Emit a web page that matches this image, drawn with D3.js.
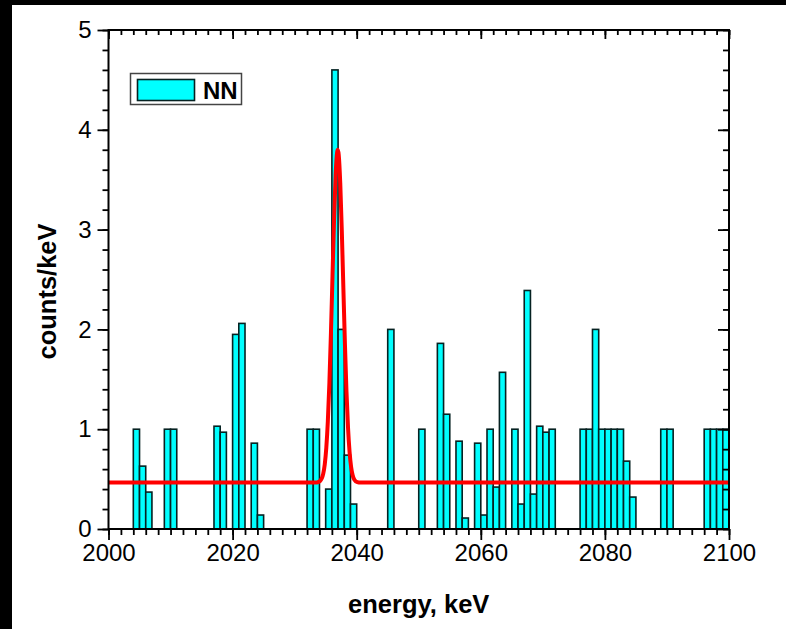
<!DOCTYPE html>
<html>
<head>
<meta charset="utf-8">
<script src="https://cdn.jsdelivr.net/npm/d3@7"></script>
<style>
  html, body { margin: 0; padding: 0; background: #000; }
  svg { display: block; }
  text { font-family: "Liberation Sans", Arial, Helvetica, sans-serif; fill: #000; }
</style>
</head>
<body>
<svg id="chart" width="786" height="629"></svg>
<script>
// Histogram bins (lower edge of each 1 keV bin) and counts/keV
const binStart = [2004, 2005, 2006, 2009, 2010, 2017, 2018, 2020, 2021, 2023, 2024,
                  2032, 2033, 2035, 2036, 2037, 2038, 2039, 2045, 2050, 2053, 2054,
                  2056, 2057, 2059, 2060, 2061, 2062, 2063, 2065, 2066, 2067, 2068,
                  2069, 2070, 2071, 2076, 2077, 2078, 2079, 2080, 2081, 2082, 2083,
                  2084, 2089, 2090, 2096, 2097, 2098, 2099];
const counts   = [1.00, 0.63, 0.37, 1.00, 1.00, 1.03, 0.97, 1.95, 2.06, 0.86, 0.14,
                  1.00, 1.00, 0.40, 4.60, 2.00, 0.74, 0.25, 2.00, 1.00, 1.86, 1.15,
                  0.88, 0.11, 0.86, 0.14, 1.00, 0.42, 1.57, 1.00, 0.25, 2.39, 0.35,
                  1.03, 0.97, 1.00, 1.00, 1.00, 2.00, 1.00, 1.00, 1.00, 1.00, 0.68,
                  0.32, 1.00, 1.00, 1.00, 1.00, 1.00, 1.00];
const binWidth = 1;

// Fitted peak on flat background (energy, counts/keV)
const fitE      = [2000, 2033.1, 2033.6, 2034.1, 2034.6, 2034.85, 2035.1, 2035.35, 2035.6,
                   2035.85, 2036.1, 2036.35, 2036.6, 2036.85, 2036.95, 2037.1, 2037.35,
                   2037.6, 2037.85, 2038.1, 2038.35, 2038.6, 2038.85, 2039.1, 2039.35,
                   2039.6, 2040.1, 2040.6, 2100];
const fitCounts = [0.465, 0.465, 0.467, 0.481, 0.552, 0.646, 0.813, 1.080, 1.465,
                   1.965, 2.534, 3.094, 3.541, 3.778, 3.800, 3.751, 3.465,
                   2.988, 2.418, 1.857, 1.379, 1.017, 0.772, 0.622, 0.539,
                   0.497, 0.470, 0.465, 0.465];

// Axis ticks
const xMajor = [2000, 2020, 2040, 2060, 2080, 2100];
const yMajor = [0, 1, 2, 3, 4, 5];
const xMinor = d3.range(2000, 2101, 2);
const yMinor = d3.range(0, 5.01, 0.2).map(v => +v.toFixed(1));

const legendLabel = "NN";
const xTitle = "energy, keV";
const yTitle = "counts/keV";

const W = 786, H = 629;
const plot = { left: 108.5, right: 729, top: 30, bottom: 529 };

const svg = d3.select("#chart");

// page background: white sheet with a dark margin at left/top
svg.append("rect").attr("x", 0).attr("y", 0).attr("width", W).attr("height", H).attr("fill", "#000");
svg.append("rect").attr("x", 12).attr("y", 5).attr("width", W - 12).attr("height", H - 5).attr("fill", "#fff");

const x = d3.scaleLinear().domain([2000, 2100]).range([plot.left, plot.right]);
const y = d3.scaleLinear().domain([0, 5]).range([plot.bottom, plot.top]);

svg.append("clipPath").attr("id", "plotClip")
  .append("rect")
  .attr("x", plot.left).attr("y", plot.top)
  .attr("width", plot.right - plot.left).attr("height", plot.bottom - plot.top);

// bars
const bins = binStart.map((e, i) => ({ e, c: counts[i] }));
svg.append("g")
  .selectAll("rect")
  .data(bins)
  .join("rect")
  .attr("x", d => x(d.e))
  .attr("y", d => y(d.c))
  .attr("width", d => x(d.e + binWidth) - x(d.e))
  .attr("height", d => y(0) - y(d.c))
  .attr("fill", "#00ffff")
  .attr("stroke", "#062222")
  .attr("stroke-width", 1.6);

// fit curve
const fitPts = fitE.map((e, i) => [e, fitCounts[i]]);
svg.append("path")
  .datum(fitPts)
  .attr("clip-path", "url(#plotClip)")
  .attr("fill", "none")
  .attr("stroke", "#ff0000")
  .attr("stroke-width", 4)
  .attr("stroke-linejoin", "round")
  .attr("d", d3.line().x(d => x(d[0])).y(d => y(d[1])).curve(d3.curveMonotoneX));

// axes
function styleAxis(g) {
  g.select(".domain").remove();
  g.selectAll(".tick line").attr("stroke", "#000").attr("stroke-width", 1.8);
}
const tickFont = 24;

// bottom
svg.append("g").attr("transform", `translate(0,${plot.bottom})`)
  .call(d3.axisBottom(x).tickValues(xMinor).tickSize(6).tickFormat(""))
  .call(styleAxis);
const xb = svg.append("g").attr("transform", `translate(0,${plot.bottom})`)
  .call(d3.axisBottom(x).tickValues(xMajor).tickSize(11).tickPadding(4).tickFormat(d3.format("d")))
  .call(styleAxis);
xb.selectAll(".tick text").attr("font-size", tickFont).attr("font-family", "Liberation Sans, Arial, sans-serif").attr("fill", "#000");

// top (inward)
svg.append("g").attr("transform", `translate(0,${plot.top})`)
  .call(d3.axisTop(x).tickValues(xMinor).tickSize(-5).tickFormat(""))
  .call(styleAxis);
svg.append("g").attr("transform", `translate(0,${plot.top})`)
  .call(d3.axisTop(x).tickValues(xMajor).tickSize(-9).tickFormat(""))
  .call(styleAxis);

// left
svg.append("g").attr("transform", `translate(${plot.left},0)`)
  .call(d3.axisLeft(y).tickValues(yMinor).tickSize(6).tickFormat(""))
  .call(styleAxis);
const yl = svg.append("g").attr("transform", `translate(${plot.left},0)`)
  .call(d3.axisLeft(y).tickValues(yMajor).tickSize(11).tickPadding(6).tickFormat(d3.format("d")))
  .call(styleAxis);
yl.selectAll(".tick text").attr("font-size", tickFont).attr("font-family", "Liberation Sans, Arial, sans-serif").attr("fill", "#000");

// right (inward)
svg.append("g").attr("transform", `translate(${plot.right},0)`)
  .call(d3.axisRight(y).tickValues(yMinor).tickSize(-6).tickFormat(""))
  .call(styleAxis);
svg.append("g").attr("transform", `translate(${plot.right},0)`)
  .call(d3.axisRight(y).tickValues(yMajor).tickSize(-11).tickFormat(""))
  .call(styleAxis);

// frame
svg.append("rect")
  .attr("x", plot.left).attr("y", plot.top)
  .attr("width", plot.right - plot.left).attr("height", plot.bottom - plot.top)
  .attr("fill", "none").attr("stroke", "#000").attr("stroke-width", 2);

// legend
const lg = svg.append("g");
lg.append("rect").attr("x", 130.5).attr("y", 73.5).attr("width", 111).attr("height", 31)
  .attr("fill", "#fff").attr("stroke", "#444").attr("stroke-width", 1.5);
lg.append("rect").attr("x", 137.5).attr("y", 79.5).attr("width", 57).attr("height", 21)
  .attr("fill", "#00ffff").attr("stroke", "#062222").attr("stroke-width", 1.6);
lg.append("text").attr("x", 203).attr("y", 99).attr("font-size", 24).attr("font-weight", "bold")
  .text(legendLabel);

// axis titles
svg.append("text").attr("x", (plot.left + plot.right) / 2).attr("y", 613)
  .attr("text-anchor", "middle").attr("font-size", 25.5).attr("font-weight", "bold")
  .text(xTitle);
svg.append("text")
  .attr("transform", `translate(56,${(plot.top + plot.bottom) / 2 + 12}) rotate(-90)`)
  .attr("text-anchor", "middle").attr("font-size", 25.5).attr("font-weight", "bold")
  .text(yTitle);
</script>
</body>
</html>
